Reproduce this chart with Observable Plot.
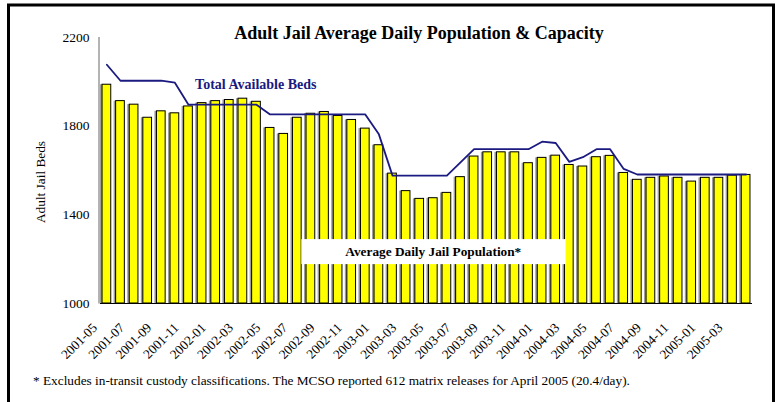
<!DOCTYPE html>
<html>
<head>
<meta charset="utf-8">
<script src="https://cdn.jsdelivr.net/npm/d3@7"></script>
<script src="https://cdn.jsdelivr.net/npm/@observablehq/plot@0.6"></script>
<style>
  html, body { margin: 0; padding: 0; background: #fff; }
  #chart { width: 780px; height: 402px; overflow: hidden; }
  #chart svg, #chart svg text { font-family: "Liberation Serif", "Times New Roman", serif !important; }
</style>
</head>
<body>
<div id="chart"></div>
<script>
const months = [
  "2001-05","2001-06","2001-07","2001-08","2001-09","2001-10","2001-11","2001-12",
  "2002-01","2002-02","2002-03","2002-04","2002-05","2002-06","2002-07","2002-08",
  "2002-09","2002-10","2002-11","2002-12","2003-01","2003-02","2003-03","2003-04",
  "2003-05","2003-06","2003-07","2003-08","2003-09","2003-10","2003-11","2003-12",
  "2004-01","2004-02","2004-03","2004-04","2004-05","2004-06","2004-07","2004-08",
  "2004-09","2004-10","2004-11","2004-12","2005-01","2005-02","2005-03","2005-04"
];
const population = [
  1987,1913,1897,1838,1867,1858,1889,1904,
  1913,1918,1924,1910,1792,1765,1838,1856,
  1864,1846,1828,1789,1714,1586,1507,1472,
  1475,1499,1570,1663,1682,1682,1682,1633,
  1657,1667,1625,1618,1660,1666,1589,1558,
  1567,1573,1567,1550,1567,1567,1577,1580
];
const beds = [
  2077,2005,2005,2005,2005,1996,1897,1897,
  1897,1897,1897,1897,1853,1853,1853,1853,
  1853,1853,1853,1853,1763,1577,1577,1577,
  1577,1577,1637,1696,1696,1696,1696,1696,
  1730,1724,1639,1660,1696,1696,1607,1582,
  1582,1582,1582,1582,1582,1582,1582,1582
];
const tickLabels = [
  "2001-05","2001-07","2001-09","2001-11","2002-01","2002-03","2002-05","2002-07",
  "2002-09","2002-11","2003-01","2003-03","2003-05","2003-07","2003-09","2003-11",
  "2004-01","2004-03","2004-05","2004-07","2004-09","2004-11","2005-01","2005-03"
];
const yTicks = [1000, 1400, 1800, 2200];
const titleText = "Adult Jail Average Daily Population & Capacity";
const yLabel = "Adult Jail Beds";
const bedsLabel = "Total Available Beds";
const popLabel = "Average Daily Jail Population*";
const footnote = "* Excludes in-transit custody classifications. The MCSO reported 612 matrix releases for April 2005 (20.4/day).";

const rows = months.map((m, i) => ({month: m, pop: population[i], beds: beds[i]}));

const plot = Plot.plot({
  width: 780,
  height: 402,
  marginLeft: 100,
  marginRight: 28,
  marginTop: 37,
  marginBottom: 99,
  style: {fontFamily: "Liberation Serif", fontSize: "13px", background: "#fff"},
  x: {domain: months, paddingInner: 0.36, paddingOuter: 0.15, round: false, label: null},
  y: {domain: [1000, 2200], label: null},
  marks: [
    Plot.barY(rows, {x: "month", y1: 1000, y2: "pop", fill: "#9a9a9a", dx: -2}),
    Plot.barY(rows, {x: "month", y1: 1000, y2: "pop", fill: "#ffff00", stroke: "#000", strokeWidth: 1}),
    Plot.line(rows, {x: "month", y: "beds", stroke: "#1a1a80", strokeWidth: 1.8}),
    Plot.axisY({ticks: yTicks, tickSize: 0, tickPadding: 11, tickFormat: d => String(d), fontSize: 13.5, label: null}),
    Plot.axisX({ticks: tickLabels, tickSize: 0, tickRotate: -45, tickPadding: 22, dx: -12, fontSize: 13.3, label: null}),
    Plot.text([{m: "2001-12", v: 1987, t: bedsLabel}], {x: "m", y: "v", text: "t", textAnchor: "start", dx: -7, fill: "#1a1a80", fontWeight: "bold", fontSize: 14}),
    Plot.text([{m: "2003-05", v: 1233, t: popLabel}], {x: "m", y: "v", text: "t", fill: "#000", fontWeight: "bold", fontSize: 13.3}),
    Plot.ruleY([1000], {stroke: "#000", strokeWidth: 1.2})
  ]
});

document.getElementById("chart").appendChild(plot);
const svg = d3.select(plot);

// white box behind the population label
svg.selectAll("text").filter(function() { return this.textContent === popLabel; }).each(function() {
  const bb = this.getBBox();
  const ctm = this.getAttribute("transform");
  const r = d3.select(this.parentNode).insert("rect", () => this)
    .attr("x", bb.x - 44).attr("y", bb.y - 5)
    .attr("width", bb.width + 88).attr("height", bb.height + 10)
    .attr("fill", "#fff");
  if (ctm) r.attr("transform", ctm);
});

// vertical axis line
svg.append("line")
  .attr("x1", 99).attr("x2", 99).attr("y1", 37).attr("y2", 303.5)
  .attr("stroke", "#808080").attr("stroke-width", 1.2);

// title
svg.append("text")
  .attr("x", 419).attr("y", 39)
  .attr("text-anchor", "middle")
  .attr("font-weight", "bold").attr("font-size", 18)
  .attr("fill", "#000")
  .text(titleText);

// y label
svg.append("text")
  .attr("transform", "translate(45,182) rotate(-90)")
  .attr("text-anchor", "middle")
  .attr("font-size", 13.3)
  .attr("fill", "#000")
  .text(yLabel);

// footnote
svg.append("text")
  .attr("x", 33).attr("y", 385)
  .attr("text-anchor", "start")
  .attr("font-size", 13.3)
  .attr("fill", "#000")
  .text(footnote);

// outer frame
svg.append("rect")
  .attr("x", 8.5).attr("y", 5).attr("width", 765).attr("height", 430)
  .attr("fill", "none").attr("stroke", "#000").attr("stroke-width", 3);
</script>
</body>
</html>
